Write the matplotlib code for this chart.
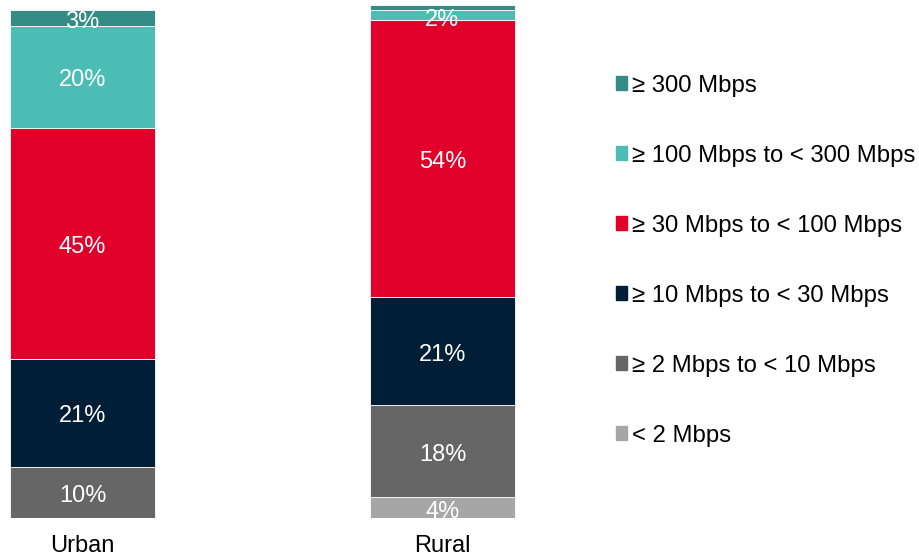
import matplotlib.pyplot as plt
from matplotlib.patches import Patch

plt.rcParams['font.family'] = ['Liberation Sans', 'DejaVu Sans']

areas = ['Urban', 'Rural']
bands = ['< 2 Mbps', '≥ 2 Mbps to < 10 Mbps', '≥ 10 Mbps to < 30 Mbps',
         '≥ 30 Mbps to < 100 Mbps', '≥ 100 Mbps to < 300 Mbps', '≥ 300 Mbps']
urban = [0, 10, 21, 45, 20, 3]
rural = [4, 18, 21, 54, 2, 1]
colors = ['#a6a6a6', '#666666', '#001e36', '#e0002a', '#4bbdb5', '#338c85']

fig = plt.figure(figsize=(9.2, 5.6), dpi=100)
ax = fig.add_axes([0, 42 / 560, 560 / 920, 513 / 560])

width = 145 / 360
bottoms = [0, 0]
for i, band in enumerate(bands):
    vals = [urban[i], rural[i]]
    ax.bar([0, 1], vals, width, bottom=bottoms, color=colors[i],
           edgecolor='white', linewidth=0.6)
    for j, v in enumerate(vals):
        if v >= 2:
            # small segments: label sits a bit low, as in the original
            y = bottoms[j] + v / 2 - (0.9 if v < 5 else 0.7)
            ax.text(j, y, f'{v}%', ha='center', va='center',
                    color='white', fontsize=17)
    bottoms = [bottoms[0] + vals[0], bottoms[1] + vals[1]]

ax.set_xlim(-82.5 / 360, 1 + (560 - 442.5) / 360)
ax.set_ylim(0, 100)
ax.set_xticks([0, 1])
ax.set_xticklabels(areas, fontsize=17)
ax.tick_params(length=0, pad=12)
ax.set_yticks([])
for s in ax.spines.values():
    s.set_visible(False)

handles = [Patch(color=c) for c in colors][::-1]
fig.legend(handles, bands[::-1], loc='upper left', bbox_to_anchor=(606 / 920, 1 - 65 / 560),
           frameon=False, fontsize=17.2, handlelength=0.5, handleheight=0.5,
           handletextpad=0.2, labelspacing=2.01, borderaxespad=0)

fig.savefig('out.png')
